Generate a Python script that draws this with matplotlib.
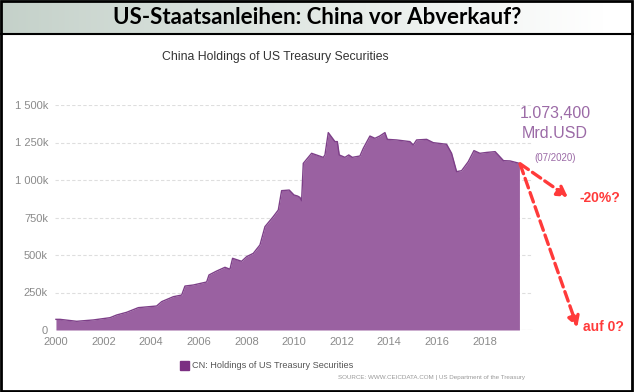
import numpy as np
import matplotlib.pyplot as plt
from matplotlib.patches import Rectangle
from matplotlib.lines import Line2D

# China holdings of US treasuries (bn USD)
years = [2000.0, 2000.17, 2000.87, 2001.57, 2002.27, 2002.55, 2002.97, 2003.46, 2004.23,
         2004.44, 2004.93, 2005.28, 2005.42, 2005.77, 2006.33, 2006.43, 2006.75,
         2007.1, 2007.31, 2007.42, 2007.8, 2008.01, 2008.29, 2008.57, 2008.78,
         2009.13, 2009.34, 2009.48, 2009.8, 2010.0, 2010.15, 2010.25, 2010.32,
         2010.39, 2010.74, 2011.23, 2011.3, 2011.44, 2011.72, 2011.82, 2011.9,
         2012.14, 2012.3, 2012.45, 2012.77, 2012.91, 2013.19, 2013.4, 2013.6,
         2013.82, 2013.92, 2014.31, 2014.87, 2015.01, 2015.15, 2015.57, 2015.85,
         2016.41, 2016.62, 2016.83, 2017.04, 2017.32, 2017.56, 2017.81, 2018.1,
         2018.45, 2018.8, 2019.08, 2019.47]
values = [71, 71, 58, 67, 82, 100, 118, 149, 160,
          189, 222, 233, 293, 300, 320, 367, 393,
          418, 405, 478, 458, 489, 511, 567, 689,
          756, 800, 929, 933, 900, 893, 884, 862,
          1111, 1178, 1151, 1167, 1316, 1256, 1256, 1167,
          1151, 1167, 1151, 1160, 1211, 1293, 1278, 1293,
          1316, 1271, 1267, 1256, 1233, 1267, 1271, 1249,
          1238, 1178, 1056, 1062, 1122, 1196, 1178, 1184,
          1189, 1129, 1127, 1111]

xticks = [2000, 2002, 2004, 2006, 2008, 2010, 2012, 2014, 2016, 2018]
yticks = [0, 250, 500, 750, 1000, 1250, 1500]
ytick_labels = ["0", "250k", "500k", "750k", "1 000k", "1 250k", "1 500k"]

arial = ["Liberation Sans", "DejaVu Sans"]

fig = plt.figure(figsize=(6.34, 3.92), dpi=100)
fig.patch.set_facecolor("white")

# header band with gradient
hdr = fig.add_axes([0, 1 - 34 / 392, 1, 34 / 392])
grad = np.linspace(0, 1, 256)
c0 = np.array([0.77, 0.82, 0.79])
c1 = np.array([1.0, 1.0, 1.0])
img = c0[None, :] + (c1 - c0)[None, :] * np.clip(grad / 0.95, 0, 1)[:, None]
hdr.imshow(img[None, :, :], aspect="auto", extent=[0, 1, 0, 1])
hdr.set_xlim(0, 1)
hdr.set_ylim(0, 1)
hdr.axis("off")
hdr.text(0.5, 0.48, "US-Staatsanleihen: China vor Abverkauf?", ha="center", va="center",
         fontsize=16, fontweight="bold", family=["Lato", "DejaVu Sans"], color="black")

fig.add_artist(Line2D([0, 1], [1 - 34 / 392, 1 - 34 / 392], color="black", lw=1.5,
                      transform=fig.transFigure))
fig.add_artist(Rectangle((0.002, 0.003), 0.995, 0.994, fill=False, edgecolor="black",
                         lw=2, transform=fig.transFigure))

# main chart
ax = fig.add_axes([55 / 634, 62 / 392, 478 / 634, 225 / 392])
ax.fill_between(years, values, 0, color="#9a61a1", lw=0, zorder=2)
ax.plot(years, values, color="#7d3f88", lw=1, zorder=3)
ax.set_xlim(1999.96, 2020.04)
ax.set_ylim(0, 1500)
ax.set_xticks(xticks)
ax.set_yticks(yticks)
ax.set_yticklabels(ytick_labels)
for s in ax.spines.values():
    s.set_visible(False)
ax.tick_params(length=0, colors="#8a8a8a", labelsize=8, pad=5)
for lab in ax.get_xticklabels() + ax.get_yticklabels():
    lab.set_family(arial)
ax.grid(axis="y", color="#dedede", ls=(0, (3, 2)), lw=0.8, zorder=1)
ax.axhline(0, color="#dedede", lw=0.8, zorder=1)
ax.set_facecolor("none")

fig.text(275 / 634, 1 - 57 / 392, "China Holdings of US Treasury Securities", ha="center",
         va="center", fontsize=8.8, family=arial, color="#333333")

# annotations on the right
fig.text(555 / 634, 1 - 113 / 392, "1.073,400", ha="center", va="center", fontsize=11.5,
         family=arial, color="#9b6aa6")
fig.text(555 / 634, 1 - 133 / 392, "Mrd.USD", ha="center", va="center", fontsize=11.5,
         family=arial, color="#9b6aa6")
fig.text(555 / 634, 1 - 158 / 392, "(07/2020)", ha="center", va="center", fontsize=7,
         family=arial, color="#9b6aa6")

arrow = dict(arrowstyle="-|>,head_length=0.6,head_width=0.35", color="#ff3a3a", lw=2.4,
             ls=(0, (3, 1.5)), shrinkA=0, shrinkB=0)
ax.annotate("", xy=(2021.5, 887), xytext=(2019.5, 1108), arrowprops=arrow,
            annotation_clip=False)
ax.annotate("", xy=(2021.9, 20), xytext=(2019.5, 1105), arrowprops=arrow,
            annotation_clip=False)
fig.text(600 / 634, 1 - 198 / 392, "-20%?", ha="center", va="center", fontsize=10,
         fontweight="bold", family=arial, color="#ff3a3a")
fig.text(603 / 634, 1 - 327 / 392, "auf 0?", ha="center", va="center", fontsize=10,
         fontweight="bold", family=arial, color="#ff3a3a")

# legend and source
fig.add_artist(Rectangle((180 / 634, 1 - 370 / 392), 9 / 634, 9 / 392, color="#7b2f82",
                         transform=fig.transFigure))
fig.text(192 / 634, 1 - 366 / 392, "CN: Holdings of US Treasury Securities", ha="left",
         va="center", fontsize=6.6, family=arial, color="#555555")
fig.text(525 / 634, 1 - 378 / 392, "SOURCE: WWW.CEICDATA.COM | US Department of the Treasury",
         ha="right", va="center", fontsize=4.5, family=arial, color="#999999")

fig.savefig("out.png", dpi=100)
